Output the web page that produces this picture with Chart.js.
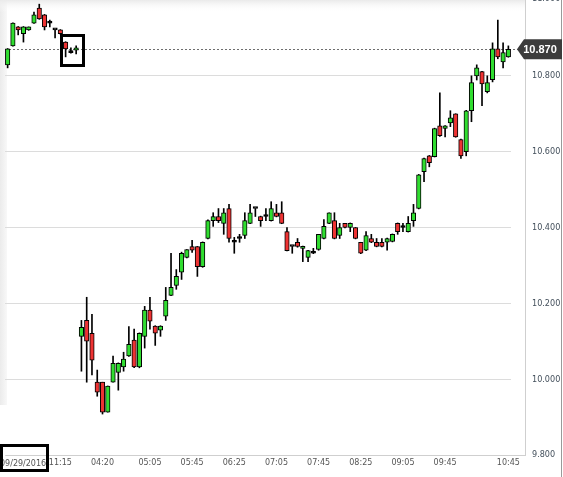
<!DOCTYPE html>
<html>
<head>
<meta charset="utf-8">
<title>Candles</title>
<script src="https://cdn.jsdelivr.net/npm/chart.js@4.4.1/dist/chart.umd.min.js"></script>
<style>
  html, body { margin: 0; padding: 0; background: #fff; }
  canvas { display: block; }
</style>
</head>
<body>
<canvas id="priceChart" width="563" height="477"></canvas>
<script>
// 5 minute bars, end of previous session then 09/29 pre-market
const times = [
  '10:25', '10:30', '10:35', '10:40', '10:45', '10:50', '10:55', '11:00', '11:05', '11:10', '11:15', '11:20', '11:25', '11:30',
  '04:00', '04:05', '04:10', '04:15', '04:20', '04:25', '04:30', '04:35', '04:40', '04:45', '04:50', '04:55',
  '05:00', '05:05', '05:10', '05:15', '05:20', '05:25', '05:30', '05:35', '05:40', '05:45', '05:50', '05:55',
  '06:00', '06:05', '06:10', '06:15', '06:20', '06:25', '06:30', '06:35', '06:40', '06:45', '06:50', '06:55',
  '07:00', '07:05', '07:10', '07:15', '07:20', '07:25', '07:30', '07:35', '07:40', '07:45', '07:50', '07:55',
  '08:00', '08:05', '08:10', '08:15', '08:20', '08:25', '08:30', '08:35', '08:40', '08:45', '08:50', '08:55',
  '09:00', '09:05', '09:10', '09:15', '09:20', '09:25', '09:30', '09:35', '09:40', '09:45', '09:50', '09:55',
  '10:00', '10:05', '10:10', '10:15', '10:20', '10:25', '10:30', '10:35', '10:40', '10:45'
];

const opens = [
  10.829, 10.879, 10.929, 10.911, 10.921, 10.939, 10.979, 10.961, 10.939, 10.921, 10.921, 10.889, 10.861, 10.868,
  10.113, 10.155, 10.121, 9.992, 9.992, 9.913, 9.992, 10.018, 10.032, 10.061, 10.103, 10.032,
  10.113, 10.182, 10.140, 10.129, 10.166, 10.221, 10.247, 10.282, 10.321, 10.350, 10.350, 10.297,
  10.371, 10.418, 10.429, 10.411, 10.450, 10.361, 10.371, 10.379, 10.411, 10.450, 10.429, 10.429,
  10.418, 10.439, 10.439, 10.389, 10.350, 10.361, 10.345, 10.321, 10.332, 10.342, 10.371, 10.411,
  10.418, 10.379, 10.411, 10.400, 10.400, 10.361, 10.340, 10.371, 10.361, 10.361, 10.361, 10.363,
  10.411, 10.400, 10.389, 10.418, 10.450, 10.547, 10.589, 10.587, 10.668, 10.661, 10.676, 10.700,
  10.632, 10.600, 10.708, 10.800, 10.811, 10.758, 10.790, 10.871, 10.837, 10.850
];
const highs = [
  10.872, 10.940, 10.930, 10.930, 10.929, 10.968, 10.989, 10.962, 10.947, 10.921, 10.922, 10.890, 10.874, 10.879,
  10.155, 10.216, 10.171, 10.024, 9.992, 9.982, 10.061, 10.043, 10.071, 10.139, 10.132, 10.122,
  10.192, 10.216, 10.141, 10.141, 10.242, 10.332, 10.289, 10.335, 10.342, 10.366, 10.350, 10.362,
  10.420, 10.439, 10.450, 10.450, 10.461, 10.374, 10.382, 10.439, 10.461, 10.450, 10.430, 10.450,
  10.468, 10.461, 10.468, 10.400, 10.350, 10.371, 10.351, 10.340, 10.345, 10.382, 10.421, 10.439,
  10.439, 10.411, 10.411, 10.412, 10.400, 10.361, 10.389, 10.382, 10.371, 10.371, 10.372, 10.383,
  10.412, 10.411, 10.429, 10.461, 10.540, 10.583, 10.590, 10.662, 10.755, 10.669, 10.708, 10.700,
  10.633, 10.709, 10.800, 10.829, 10.812, 10.800, 10.887, 10.947, 10.887, 10.879
];
const lows = [
  10.821, 10.878, 10.908, 10.889, 10.920, 10.938, 10.949, 10.921, 10.929, 10.900, 10.910, 10.850, 10.860, 10.858,
  10.021, 9.992, 10.011, 9.955, 9.908, 9.913, 9.992, 9.971, 10.021, 10.060, 10.030, 10.030,
  10.082, 10.132, 10.089, 10.113, 10.155, 10.220, 10.237, 10.263, 10.320, 10.334, 10.271, 10.295,
  10.370, 10.403, 10.413, 10.382, 10.361, 10.332, 10.361, 10.371, 10.410, 10.429, 10.403, 10.418,
  10.417, 10.428, 10.410, 10.338, 10.332, 10.348, 10.310, 10.310, 10.331, 10.340, 10.370, 10.410,
  10.370, 10.371, 10.399, 10.389, 10.370, 10.331, 10.339, 10.360, 10.349, 10.349, 10.340, 10.362,
  10.382, 10.389, 10.388, 10.403, 10.449, 10.521, 10.560, 10.586, 10.640, 10.639, 10.666, 10.638,
  10.582, 10.589, 10.679, 10.789, 10.721, 10.755, 10.784, 10.845, 10.821, 10.849
];
const closes = [
  10.871, 10.939, 10.921, 10.929, 10.929, 10.961, 10.950, 10.929, 10.939, 10.921, 10.911, 10.871, 10.861, 10.874,
  10.137, 10.100, 10.050, 9.966, 9.913, 9.982, 10.042, 10.042, 10.053, 10.092, 10.032, 10.121,
  10.182, 10.153, 10.121, 10.140, 10.208, 10.242, 10.271, 10.332, 10.342, 10.340, 10.297, 10.361,
  10.418, 10.429, 10.418, 10.439, 10.371, 10.361, 10.371, 10.418, 10.439, 10.450, 10.418, 10.429,
  10.450, 10.429, 10.411, 10.339, 10.350, 10.350, 10.350, 10.339, 10.332, 10.382, 10.403, 10.439,
  10.371, 10.400, 10.400, 10.411, 10.371, 10.332, 10.379, 10.361, 10.350, 10.350, 10.371, 10.382,
  10.389, 10.400, 10.411, 10.439, 10.539, 10.582, 10.571, 10.661, 10.642, 10.668, 10.689, 10.639,
  10.589, 10.708, 10.782, 10.821, 10.779, 10.782, 10.871, 10.850, 10.861, 10.870
];

// labels shown under the x axis
const tickLabels = ['11:15', '04:20', '05:05', '05:45', '06:25', '07:05', '07:45', '08:25', '09:05', '09:45', '10:45'];
const dateLabel = '09/29/2016';

const lastClose = closes[closes.length - 1];
const upColor = '#30dd30';
const downColor = '#ee3333';
const axisFont = '"Liberation Sans Narrow", "DejaVu Sans Condensed", "Liberation Sans", sans-serif';

// background, last price line, price tag and the marker boxes
const chartDecor = {
    id: 'chartDecor',
    beforeDraw(chart) {
        const ctx = chart.ctx;
        const area = chart.chartArea;
        ctx.save();
        ctx.fillStyle = '#fff';
        ctx.fillRect(0, 0, chart.width, chart.height);
        const band = ctx.createLinearGradient(0, 0, area.left + 2, 0);
        band.addColorStop(0, '#ebebeb');
        band.addColorStop(1, '#f8f8f8');
        ctx.fillStyle = band;
        ctx.fillRect(0, 0, area.left + 2, 405);
        const top = ctx.createLinearGradient(0, 0, 0, 12);
        top.addColorStop(0, '#eaeaea');
        top.addColorStop(1, 'rgba(255,255,255,0)');
        ctx.fillStyle = top;
        ctx.fillRect(0, 0, area.right + 14, 12);
        ctx.restore();
    },
    beforeDatasetsDraw(chart) {
        const ctx = chart.ctx;
        const area = chart.chartArea;
        const y = Math.round(chart.scales.y.getPixelForValue(lastClose)) + 0.5;
        ctx.save();
        ctx.strokeStyle = '#6e6e6e';
        ctx.lineWidth = 1;
        ctx.setLineDash([2, 2]);
        ctx.beginPath();
        ctx.moveTo(area.left, y);
        ctx.lineTo(area.right + 8, y);
        ctx.stroke();
        ctx.restore();
    },
    afterDraw(chart) {
        const ctx = chart.ctx;
        const area = chart.chartArea;
        const frameX = area.right + 14.5;
        ctx.save();

        // frame round the plot
        ctx.strokeStyle = '#cfcfcf';
        ctx.lineWidth = 1;
        ctx.beginPath();
        ctx.moveTo(area.left + 1, area.bottom + 0.5);
        ctx.lineTo(frameX, area.bottom + 0.5);
        ctx.moveTo(frameX, 0);
        ctx.lineTo(frameX, area.bottom + 1);
        ctx.stroke();
        ctx.strokeStyle = '#9a9a9a';
        ctx.beginPath();
        ctx.moveTo(chart.width - 1.5, 0);
        ctx.lineTo(chart.width - 1.5, chart.height);
        ctx.stroke();

        // partly hidden top label
        ctx.fillStyle = '#44505c';
        ctx.font = '9px ' + axisFont;
        ctx.textAlign = 'left';
        ctx.textBaseline = 'middle';
        ctx.fillText((11).toFixed(3), area.right + 21, -1);

        // last price tag
        const y = chart.scales.y.getPixelForValue(lastClose);
        const tipX = area.right + 6;
        ctx.fillStyle = '#3c3c3c';
        ctx.beginPath();
        ctx.moveTo(tipX, y);
        ctx.lineTo(tipX + 7, y - 10);
        ctx.lineTo(chart.width - 1, y - 10);
        ctx.lineTo(chart.width - 1, y + 10);
        ctx.lineTo(tipX + 7, y + 10);
        ctx.closePath();
        ctx.fill();
        ctx.fillStyle = '#fff';
        ctx.font = 'bold 11px "Liberation Sans", Arial, sans-serif';
        ctx.textAlign = 'center';
        ctx.fillText(lastClose.toFixed(3), tipX + 23, y + 0.5);

        // date under the first bar
        ctx.fillStyle = '#555';
        ctx.font = '8px "DejaVu Sans", sans-serif';
        ctx.textAlign = 'left';
        ctx.fillText(dateLabel, 0, area.bottom + 8.5);

        // black marker boxes
        ctx.strokeStyle = '#000';
        ctx.lineWidth = 3;
        ctx.strokeRect(61.5, 35.5, 22, 30);
        ctx.strokeRect(1.5, 445.5, 46, 25);
        ctx.restore();
    }
};

document.addEventListener('DOMContentLoaded', function () {
    const ctx = document.getElementById('priceChart').getContext('2d');

    const bodies = opens.map((o, i) => [o, closes[i]]);
    const wicks = lows.map((l, i) => [l, highs[i]]);

    new Chart(ctx, {
        type: 'bar',
        data: {
            labels: times,
            datasets: [
                {
                    label: 'Body',
                    data: bodies,
                    grouped: false,
                    barThickness: 4.5,
                    minBarLength: 2,
                    borderWidth: 1,
                    borderColor: '#000',
                    borderSkipped: false,
                    backgroundColor: function (c) {
                        const i = c.dataIndex;
                        if (closes[i] > opens[i]) return upColor;
                        if (closes[i] < opens[i]) return downColor;
                        return '#000';
                    }
                },
                {
                    label: 'Wick',
                    data: wicks,
                    grouped: false,
                    barThickness: 1,
                    borderWidth: 0,
                    backgroundColor: '#000'
                }
            ]
        },
        options: {
            responsive: false,
            devicePixelRatio: 1,
            animation: false,
            layout: { padding: { left: 5, top: 0, right: 0, bottom: 0 } },
            plugins: {
                legend: { display: false },
                tooltip: { enabled: false }
            },
            scales: {
                x: {
                    offset: true,
                    grid: { display: false, drawTicks: false },
                    border: { display: false },
                    ticks: {
                        autoSkip: false,
                        maxRotation: 0,
                        minRotation: 0,
                        padding: 3,
                        color: '#555',
                        font: { family: '"DejaVu Sans", sans-serif', size: 8 },
                        callback: function (value, index) {
                            const t = times[index];
                            return tickLabels.includes(t) && times.lastIndexOf(t) === index ? t : null;
                        }
                    },
                    afterFit: function (scale) {
                        scale.height = 22;
                        scale.paddingLeft = 0;
                        scale.paddingRight = 0;
                    }
                },
                y: {
                    position: 'right',
                    min: 9.8,
                    max: 11.0,
                    grid: { color: '#dcdcdc', drawTicks: false },
                    border: { display: false },
                    ticks: {
                        stepSize: 0.2,
                        padding: 21,
                        color: '#44505c',
                        font: { family: axisFont, size: 9 },
                        callback: function (value) {
                            return value > 10.99 ? null : value.toFixed(3);
                        }
                    },
                    afterFit: function (scale) {
                        scale.width = 52;
                        scale.paddingTop = 0;
                        scale.paddingBottom = 0;
                    }
                }
            }
        },
        plugins: [chartDecor]
    });
});
</script>
</body>
</html>
